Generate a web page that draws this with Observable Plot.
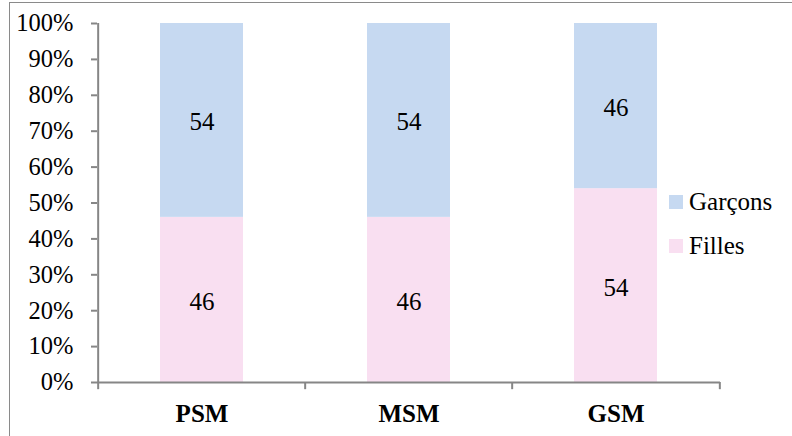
<!DOCTYPE html>
<html>
<head>
<meta charset="utf-8">
<script src="https://cdn.jsdelivr.net/npm/d3@7"></script>
<script src="https://cdn.jsdelivr.net/npm/@observablehq/plot@0.6"></script>
<style>
  html, body { margin: 0; padding: 0; background: #fff; }
  #wrap { position: relative; width: 792px; height: 436px; overflow: hidden; font-family: "Liberation Serif", "Times New Roman", serif; }
  #border { position: absolute; left: 9px; top: 2px; width: 900px; height: 600px; border-left: 1.5px solid #8a8a8a; border-top: 1.5px solid #8a8a8a; }
  #legend { position: absolute; left: 669px; top: 180px; font-size: 25px; color: #000; font-family: "Liberation Serif", "Times New Roman", serif; }
  .item { display: flex; align-items: center; height: 44px; }
  .sw { width: 14px; height: 14px; margin-right: 6px; }
  svg { position: absolute; left: 0; top: 0; }
</style>
</head>
<body>
<div id="wrap">
  <div id="border"></div>
</div>
<script>
const categories = ["PSM", "MSM", "GSM"];
const series = ["Filles", "Garçons"];
const filles = [46, 46, 54];
const garcons = [54, 54, 46];
const colors = ["#f9dff1", "#c6d9f1"];
const yTicks = [0, 10, 20, 30, 40, 50, 60, 70, 80, 90, 100];

const data = [];
categories.forEach((c, i) => {
  data.push({cat: c, series: series[0], value: filles[i]});
  data.push({cat: c, series: series[1], value: garcons[i]});
});

const W = 792, H = 436;
const mL = 97, mR = 72, mT = 23, mB = 54;
const step = (W - mL - mR) / categories.length;
const axisColor = "#868686";
const serif = "'Liberation Serif', 'Times New Roman', serif";

const chart = Plot.plot({
  width: W,
  height: H,
  marginLeft: mL,
  marginRight: mR,
  marginTop: mT,
  marginBottom: mB,
  style: {fontFamily: serif, fontSize: "25px", color: "#000", background: "transparent", overflow: "visible"},
  x: {domain: categories, paddingInner: 0.6, paddingOuter: 0.3, label: null},
  y: {domain: [0, 100], label: null},
  color: {domain: series, range: colors},
  marks: [
    Plot.barY(data, Plot.stackY({x: "cat", y: "value", fill: "series", order: series})),
    Plot.text(data, Plot.stackY({x: "cat", y: "value", z: "series", order: series, text: d => String(d.value), fill: "#000", fontSize: 25, fontFamily: serif, dy: 2})),
    Plot.ruleY([0], {stroke: axisColor, strokeWidth: 2}),
    Plot.ruleX([categories[0]], {x: d => d, y1: 0, y2: 100, dx: -step / 2, stroke: axisColor, strokeWidth: 2}),
    Plot.ruleX(categories, {x: d => d, y1: 0, y2: -2, dx: -step / 2, stroke: axisColor, strokeWidth: 2}),
    Plot.ruleX([categories[categories.length - 1]], {x: d => d, y1: 0, y2: -2, dx: step / 2, stroke: axisColor, strokeWidth: 2}),
    Plot.axisY({ticks: yTicks, tickFormat: d => d + "%", tickSize: 6, tickPadding: 18, stroke: axisColor, strokeWidth: 2, fill: "#000", fontSize: 24.5, fontFamily: serif}),
    Plot.axisX({tickSize: 0, tickPadding: 22, fontWeight: "bold", fontSize: 25, fill: "#000", fontFamily: serif})
  ]
});

const wrap = document.getElementById("wrap");
wrap.appendChild(chart);

const legend = document.createElement("div");
legend.id = "legend";
[1, 0].forEach(i => {
  const item = document.createElement("div");
  item.className = "item";
  const sw = document.createElement("span");
  sw.className = "sw";
  sw.style.background = colors[i];
  const label = document.createElement("span");
  label.textContent = series[i];
  item.appendChild(sw);
  item.appendChild(label);
  legend.appendChild(item);
});
wrap.appendChild(legend);
</script>
</body>
</html>
